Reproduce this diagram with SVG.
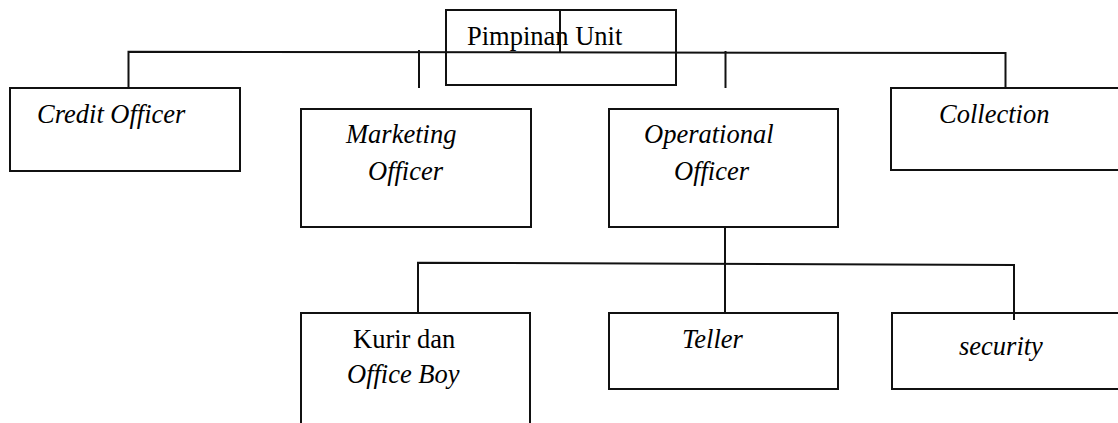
<svg xmlns="http://www.w3.org/2000/svg" width="1118" height="423" viewBox="0 0 1118 423" font-family="'Liberation Serif', 'Times New Roman', serif" font-size="26.5">
<style>
.box{fill:#fff;stroke:#111;stroke-width:2}
.ln{fill:none;stroke:#111;stroke-width:2}
text{font-family:'Liberation Serif','Times New Roman',serif;font-size:26.5px;fill:#000}
.it{font-style:italic}
</style>
<rect width="1118" height="423" fill="#fff"/>
<g id="n-pimpinan">
<rect class="box" x="446" y="10" width="230" height="75"/>
<text x="467" y="45">Pimpinan Unit</text>
</g>
<g id="n-credit">
<rect class="box" x="10" y="88" width="230" height="83"/>
<text class="it" x="37" y="123">Credit Officer</text>
</g>
<g id="n-marketing">
<rect class="box" x="301" y="109" width="230" height="118"/>
<text class="it" x="346" y="143">Marketing</text>
<text class="it" x="368" y="180">Officer</text>
</g>
<g id="n-operational">
<rect class="box" x="609" y="109" width="229" height="118"/>
<text class="it" x="644" y="143">Operational</text>
<text class="it" x="674" y="180">Officer</text>
</g>
<g id="n-collection">
<rect class="box" x="891" y="88" width="240" height="82"/>
<text class="it" x="939" y="123">Collection</text>
</g>
<g id="n-kurir">
<rect class="box" x="301" y="313" width="229" height="130"/>
<text x="353" y="348">Kurir dan</text>
<text class="it" x="347" y="383">Office Boy</text>
</g>
<g id="n-teller">
<rect class="box" x="609" y="313" width="229" height="76"/>
<text class="it" x="682" y="348">Teller</text>
</g>
<g id="n-security">
<rect class="box" x="892" y="313" width="240" height="76"/>
<text class="it" x="959" y="355">security</text>
</g>
<g id="connectors">
<path class="ln" d="M128.5,88 V51.7 L1005.5,53 V88"/>
<path class="ln" d="M560,10 V52.3"/>
<path class="ln" d="M419,50 V88"/>
<path class="ln" d="M725.5,51 V88"/>
<path class="ln" d="M725,227 V313"/>
<path class="ln" d="M418,313 V262.7 L1014,265 V320"/>
</g>
</svg>
